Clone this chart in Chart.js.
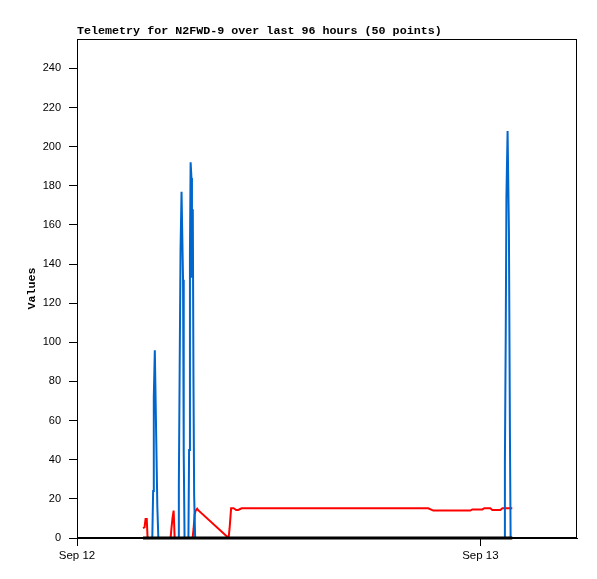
<!DOCTYPE html>
<html>
<head>
<meta charset="utf-8">
<script src="https://cdn.jsdelivr.net/npm/chart.js@4/dist/chart.umd.min.js"></script>
<style>
body{margin:0;background:#fff;}
#wrap{width:597px;height:579px;}
</style>
</head>
<body>
<div id="wrap"><canvas id="grafico" width="597" height="579"></canvas></div>
<script>

// hours since Sep 12 00:00
const blueHours = [4.48,4.53,4.57,4.63,4.66,4.72,4.78,4.84,
6.01,6.06,6.11,6.16,6.22,6.31,6.35,6.40,
6.63,6.67,6.72,6.76,6.81,6.84,6.89,6.93,6.97,7.03,
25.42,25.46,25.51,25.55,25.62,25.70,25.76,25.80];
const blueValues = [0,24,72,96,80,48,16,0,
0,27,88,147,177,132,44,0,
0,45,145,192,184,133,168,80,22,0,
0,39,104,174,208,156,52,0];

const redHours = [3.93,4.02,4.08,4.15,4.20,
5.57,5.61,5.68,5.75,5.81,
6.88,6.94,7.00,7.06,7.15,7.21,
9.02,9.08,9.17,9.32,9.47,9.59,9.80,12.5,16.0,20.90,21.20,23.40,23.52,24.12,24.24,24.59,24.71,25.19,25.31,25.90];
const redValues = [5,5.5,9.7,9.7,0,
0,4,10,14,0,
0,5,12,14,15,14.2,
0,5,15.2,15.2,14.3,14.3,15.2,15.2,15.2,15.2,14.0,14.0,14.6,14.6,15.2,15.2,14.3,14.3,15.2,15.2];

const blackHours = [3.93,6.0,9.0,12.0,16.0,20.0,25.90];
const blackValues = [0,0,0,0,0,0,0];

const yTicks = [0,20,40,60,80,100,120,140,160,180,200,220,240];
const xTicks = [0,24];
const xTickLabels = ["Sep 12","Sep 13"];

function pontos(h,v){
return h.map((x,i)=>({x:x,y:v[i]}));
}

const moldura = {
id:"moldura",
beforeDatasetsDraw(chart){
const a = chart.chartArea;
const ctx = chart.ctx;
ctx.save();
ctx.strokeStyle = "#000";
ctx.lineWidth = 1;
ctx.strokeRect(Math.round(a.left)+0.5, Math.round(a.top)+0.5,
Math.round(a.right-a.left)-1, Math.round(a.bottom-a.top)-1);
ctx.restore();
}
};

new Chart(
document.getElementById("grafico"),
{
type:"line",
data:{
datasets:[
{
label:"black",
data:pontos(blackHours,blackValues),
borderColor:"#000000",
borderWidth:3,
clip:false
},
{
label:"blue",
data:pontos(blueHours,blueValues),
borderColor:"#0066cc",
borderWidth:2
},
{
label:"red",
data:pontos(redHours,redValues),
borderColor:"#ff0000",
borderWidth:2
}
]
},
options:{
responsive:false,
animation:false,
elements:{
point:{radius:0},
line:{tension:0}
},
layout:{
padding:{left:21,right:20,top:20,bottom:0}
},
plugins:{
legend:{display:false},
tooltip:{enabled:false},
title:{
display:true,
text:"Telemetry for N2FWD-9 over last 96 hours (50 points)",
align:"start",
fullSize:false,
color:"#000",
font:{family:"'Liberation Mono', monospace",size:11.7,weight:"bold"},
padding:{top:4,bottom:1}
}
},
scales:{
x:{
type:"linear",
min:0,
max:29.75,
afterBuildTicks(scale){
scale.ticks = xTicks.map(v=>({value:v}));
},
afterFit(scale){
scale.height = 41;
},
ticks:{
color:"#000",
padding:3,
maxRotation:0,
font:{family:"'Liberation Sans', Arial, sans-serif",size:11.5},
callback:(v)=>xTickLabels[xTicks.indexOf(v)]
},
grid:{
drawOnChartArea:false,
drawTicks:true,
tickLength:8,
color:"#000"
},
border:{color:"#000"}
},
y:{
min:0,
max:255,
afterBuildTicks(scale){
scale.ticks = yTicks.map(v=>({value:v}));
},
afterFit(scale){
scale.width = 56;
},
title:{
display:true,
text:"Values",
color:"#000",
font:{family:"'Liberation Mono', monospace",size:11.7,weight:"bold"},
padding:{top:4,bottom:4}
},
ticks:{
color:"#000",
padding:8,
font:{family:"'Liberation Sans', Arial, sans-serif",size:11}
},
grid:{
drawOnChartArea:false,
drawTicks:true,
tickLength:8,
color:"#000"
},
border:{color:"#000"}
}
}
},
plugins:[moldura]
}
);

</script>
</body>
</html>
